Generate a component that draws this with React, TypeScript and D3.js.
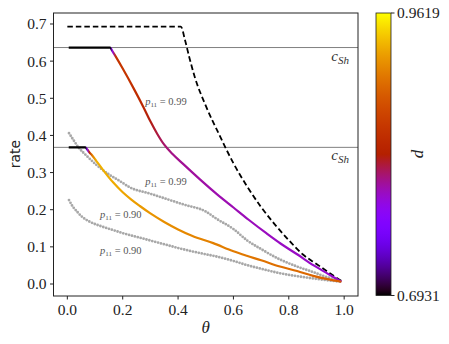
import React from 'react';
import * as d3 from 'd3';

// p11 = 0.99 curve (coloured by d)
const upperTheta = [0.005, 0.155, 0.162, 0.175, 0.2, 0.24, 0.275, 0.3, 0.325, 0.35, 0.38, 0.42, 0.48, 0.54, 0.6, 0.655, 0.72, 0.77, 0.83, 0.89, 0.94, 0.99];
const upperRate = [0.6366, 0.6366, 0.628, 0.612, 0.58, 0.526, 0.476, 0.438, 0.404, 0.375, 0.35, 0.322, 0.281, 0.242, 0.206, 0.173, 0.136, 0.109, 0.08, 0.05, 0.028, 0.006];
const upperD = [0.6931, 0.6931, 0.7737, 0.849, 0.8544, 0.8463, 0.8356, 0.8248, 0.8168, 0.8087, 0.8033, 0.8006, 0.7979, 0.7952, 0.7939, 0.7926, 0.7912, 0.7899, 0.7899, 0.7885, 0.7872, 0.7872];

// p11 = 0.90 curve (coloured by d)
const lowerTheta = [0.005, 0.065, 0.072, 0.08, 0.09, 0.105, 0.13, 0.166, 0.2, 0.23, 0.262, 0.3, 0.35, 0.4, 0.45, 0.527, 0.6, 0.648, 0.7, 0.768, 0.83, 0.888, 0.94, 0.99];
const lowerRate = [0.368, 0.368, 0.362, 0.354, 0.346, 0.331, 0.306, 0.273, 0.247, 0.228, 0.21, 0.19, 0.167, 0.147, 0.13, 0.11, 0.088, 0.076, 0.064, 0.047, 0.035, 0.022, 0.013, 0.006];
const lowerD = [0.6931, 0.6931, 0.7737, 0.841, 0.905, 0.93, 0.93, 0.9283, 0.9256, 0.923, 0.9203, 0.9176, 0.9149, 0.9122, 0.9095, 0.9068, 0.9041, 0.9014, 0.8987, 0.896, 0.8934, 0.8907, 0.888, 0.8853];

// grey dotted reference curves
const grayHiTheta = [0.006, 0.02, 0.04, 0.07, 0.106, 0.15, 0.19, 0.226, 0.3, 0.37, 0.42, 0.5, 0.54, 0.6, 0.65, 0.7, 0.768, 0.83, 0.888, 0.94, 0.99];
const grayHiRate = [0.406, 0.39, 0.368, 0.345, 0.32, 0.295, 0.277, 0.26, 0.243, 0.226, 0.214, 0.195, 0.175, 0.148, 0.117, 0.094, 0.066, 0.047, 0.032, 0.018, 0.008];
const grayLoTheta = [0.006, 0.02, 0.035, 0.05, 0.08, 0.12, 0.166, 0.2, 0.25, 0.3, 0.35, 0.4, 0.45, 0.5, 0.527, 0.6, 0.648, 0.7, 0.768, 0.83, 0.888, 0.94, 0.99];
const grayLoRate = [0.226, 0.208, 0.195, 0.183, 0.168, 0.156, 0.145, 0.137, 0.127, 0.117, 0.107, 0.097, 0.088, 0.08, 0.076, 0.062, 0.051, 0.041, 0.029, 0.021, 0.015, 0.01, 0.006];

// black dashed bound
const dashTheta = [0.0, 0.41, 0.425, 0.44, 0.46, 0.5, 0.55, 0.6, 0.65, 0.7, 0.75, 0.8, 0.85, 0.9, 0.95, 0.99];
const dashRate = [0.6931, 0.6931, 0.657, 0.612, 0.558, 0.48, 0.4, 0.325, 0.262, 0.207, 0.16, 0.118, 0.08, 0.054, 0.028, 0.008];

const cShLevels = [0.6366, 0.3679];
const labels = [
  { theta: 0.281, rate: 0.49, text: '0.99' },
  { theta: 0.281, rate: 0.275, text: '0.99' },
  { theta: 0.118, rate: 0.188, text: '0.90' },
  { theta: 0.118, rate: 0.089, text: '0.90' },
];
const xTicks = [0, 0.2, 0.4, 0.6, 0.8, 1.0];
const yTicks = [0, 0.1, 0.2, 0.3, 0.4, 0.5, 0.6, 0.7];
const dMin = 0.6931;
const dMax = 0.9619;

const gnuplot = (t: number) => {
  const r = Math.sqrt(t);
  const g = t * t * t;
  const b = Math.max(0, Math.sin(2 * Math.PI * t));
  return d3.rgb(255 * r, 255 * g, 255 * b).formatHex();
};

const SERIF = { fontFamily: "'Liberation Serif'" };
const SANS = { fontFamily: "'DejaVu Sans'" };

export default function App() {
  const x = d3.scaleLinear().domain([-0.05, 1.05]).range([53.5, 358]);
  const y = d3.scaleLinear().domain([-0.0323, 0.7296]).range([296, 13]);
  const dScale = d3.scaleLinear().domain([dMin, dMax]).range([0, 1]).clamp(true);
  const color = (d: number) => gnuplot(dScale(d));

  const line = d3.line<[number, number]>().x((p) => x(p[0])).y((p) => y(p[1])).curve(d3.curveMonotoneX);
  const zip = (a: number[], b: number[]) => a.map((v, i) => [v, b[i]] as [number, number]);

  const cb = { x: 376, w: 15, top: 13, bottom: 295.5 };
  const cbStops = d3.range(0, 1.0001, 0.02);

  const left = x.range()[0];
  const right = x.range()[1];

  const gradient = (id: string, th: number[], ds: number[]) => (
    <linearGradient id={id} gradientUnits="userSpaceOnUse" x1={x(0)} x2={x(1)} y1={0} y2={0}>
      {th.map((t, i) => (
        <stop key={i} offset={t} stopColor={color(ds[i])} />
      ))}
    </linearGradient>
  );

  return (
    <svg width={449} height={344} style={{ position: 'absolute', left: 0, top: 0, background: '#fff' }}>
      <defs>
        {gradient('gUp', upperTheta, upperD)}
        {gradient('gLo', lowerTheta, lowerD)}
        <linearGradient id="cbar" x1="0" x2="0" y1="1" y2="0">
          {cbStops.map((t, i) => (
            <stop key={i} offset={t} stopColor={gnuplot(Math.min(1, t))} />
          ))}
        </linearGradient>
        <clipPath id="clip">
          <rect x={left} y={13} width={right - left} height={283} />
        </clipPath>
      </defs>

      {/* reference levels */}
      {cShLevels.map((v, i) => (
        <g key={i}>
          <line x1={left} x2={right} y1={y(v)} y2={y(v)} stroke="#808080" strokeWidth={1} />
          <text x={right - 9} y={y(v) + 13} textAnchor="end" style={SERIF} fontStyle="italic" fill="#333">
            <tspan fontSize={15}>c</tspan>
            <tspan fontSize={11} dy={3}>Sh</tspan>
          </text>
        </g>
      ))}

      <g clipPath="url(#clip)">
        <path d={line(zip(grayHiTheta, grayHiRate)) || ''} fill="none" stroke="#a8a8a8" strokeWidth={2.8} strokeLinecap="round" strokeDasharray="0 3" />
        <path d={line(zip(grayLoTheta, grayLoRate)) || ''} fill="none" stroke="#a8a8a8" strokeWidth={2.8} strokeLinecap="round" strokeDasharray="0 3" />
        <path d={line(zip(dashTheta, dashRate)) || ''} fill="none" stroke="#000" strokeWidth={1.8} strokeDasharray="5.5 3" />
        <path d={line(zip(upperTheta, upperRate)) || ''} fill="none" stroke="url(#gUp)" strokeWidth={2.2} />
        <path d={line(zip(lowerTheta, lowerRate)) || ''} fill="none" stroke="url(#gLo)" strokeWidth={2.2} />
      </g>

      {labels.map((l, i) => (
        <text key={i} x={x(l.theta)} y={y(l.rate) + 3.5} style={SERIF} fill="#555" fontSize={10.5}>
          <tspan fontStyle="italic">p</tspan>
          <tspan fontSize={7} dy={2}>11</tspan>
          <tspan dy={-2}> = {l.text}</tspan>
        </text>
      ))}

      {/* frame */}
      <rect x={left} y={13} width={right - left} height={283} fill="none" stroke="#222" strokeWidth={1} />

      {/* x axis */}
      {xTicks.map((t) => (
        <g key={t}>
          <line x1={x(t)} x2={x(t)} y1={296} y2={299.5} stroke="#222" />
          <text x={x(t)} y={315} textAnchor="middle" style={SERIF} fontSize={15.5} fill="#222">
            {d3.format('.1f')(t)}
          </text>
        </g>
      ))}
      <text x={(left + right) / 2} y={333} textAnchor="middle" style={SERIF} fontStyle="italic" fontSize={17} fill="#222">
        θ
      </text>

      {/* y axis */}
      {yTicks.map((t) => (
        <g key={t}>
          <line x1={left - 3.5} x2={left} y1={y(t)} y2={y(t)} stroke="#222" />
          <text x={left - 7} y={y(t)} dy="0.35em" textAnchor="end" style={SERIF} fontSize={15.5} fill="#222">
            {d3.format('.1f')(t)}
          </text>
        </g>
      ))}
      <text transform={`translate(20,154) rotate(-90)`} textAnchor="middle" style={SANS} fontSize={14} fill="#222">
        rate
      </text>

      {/* colour bar */}
      <rect x={cb.x} y={cb.top} width={cb.w} height={cb.bottom - cb.top} fill="url(#cbar)" stroke="#222" strokeWidth={0.8} />
      {[dMax, dMin].map((v, i) => {
        const yy = i === 0 ? cb.top : cb.bottom;
        return (
          <g key={v}>
            <line x1={cb.x + cb.w} x2={cb.x + cb.w + 3.5} y1={yy} y2={yy} stroke="#222" />
            <text x={cb.x + cb.w + 6} y={yy} dy="0.35em" style={SERIF} fontSize={15.5} fill="#222">
              {v.toFixed(4)}
            </text>
          </g>
        );
      })}
      <text transform={`translate(417,154) rotate(-90)`} textAnchor="middle" dy="0.35em" style={SERIF} fontStyle="italic" fontSize={17} fill="#222">
        d
      </text>
    </svg>
  );
}
